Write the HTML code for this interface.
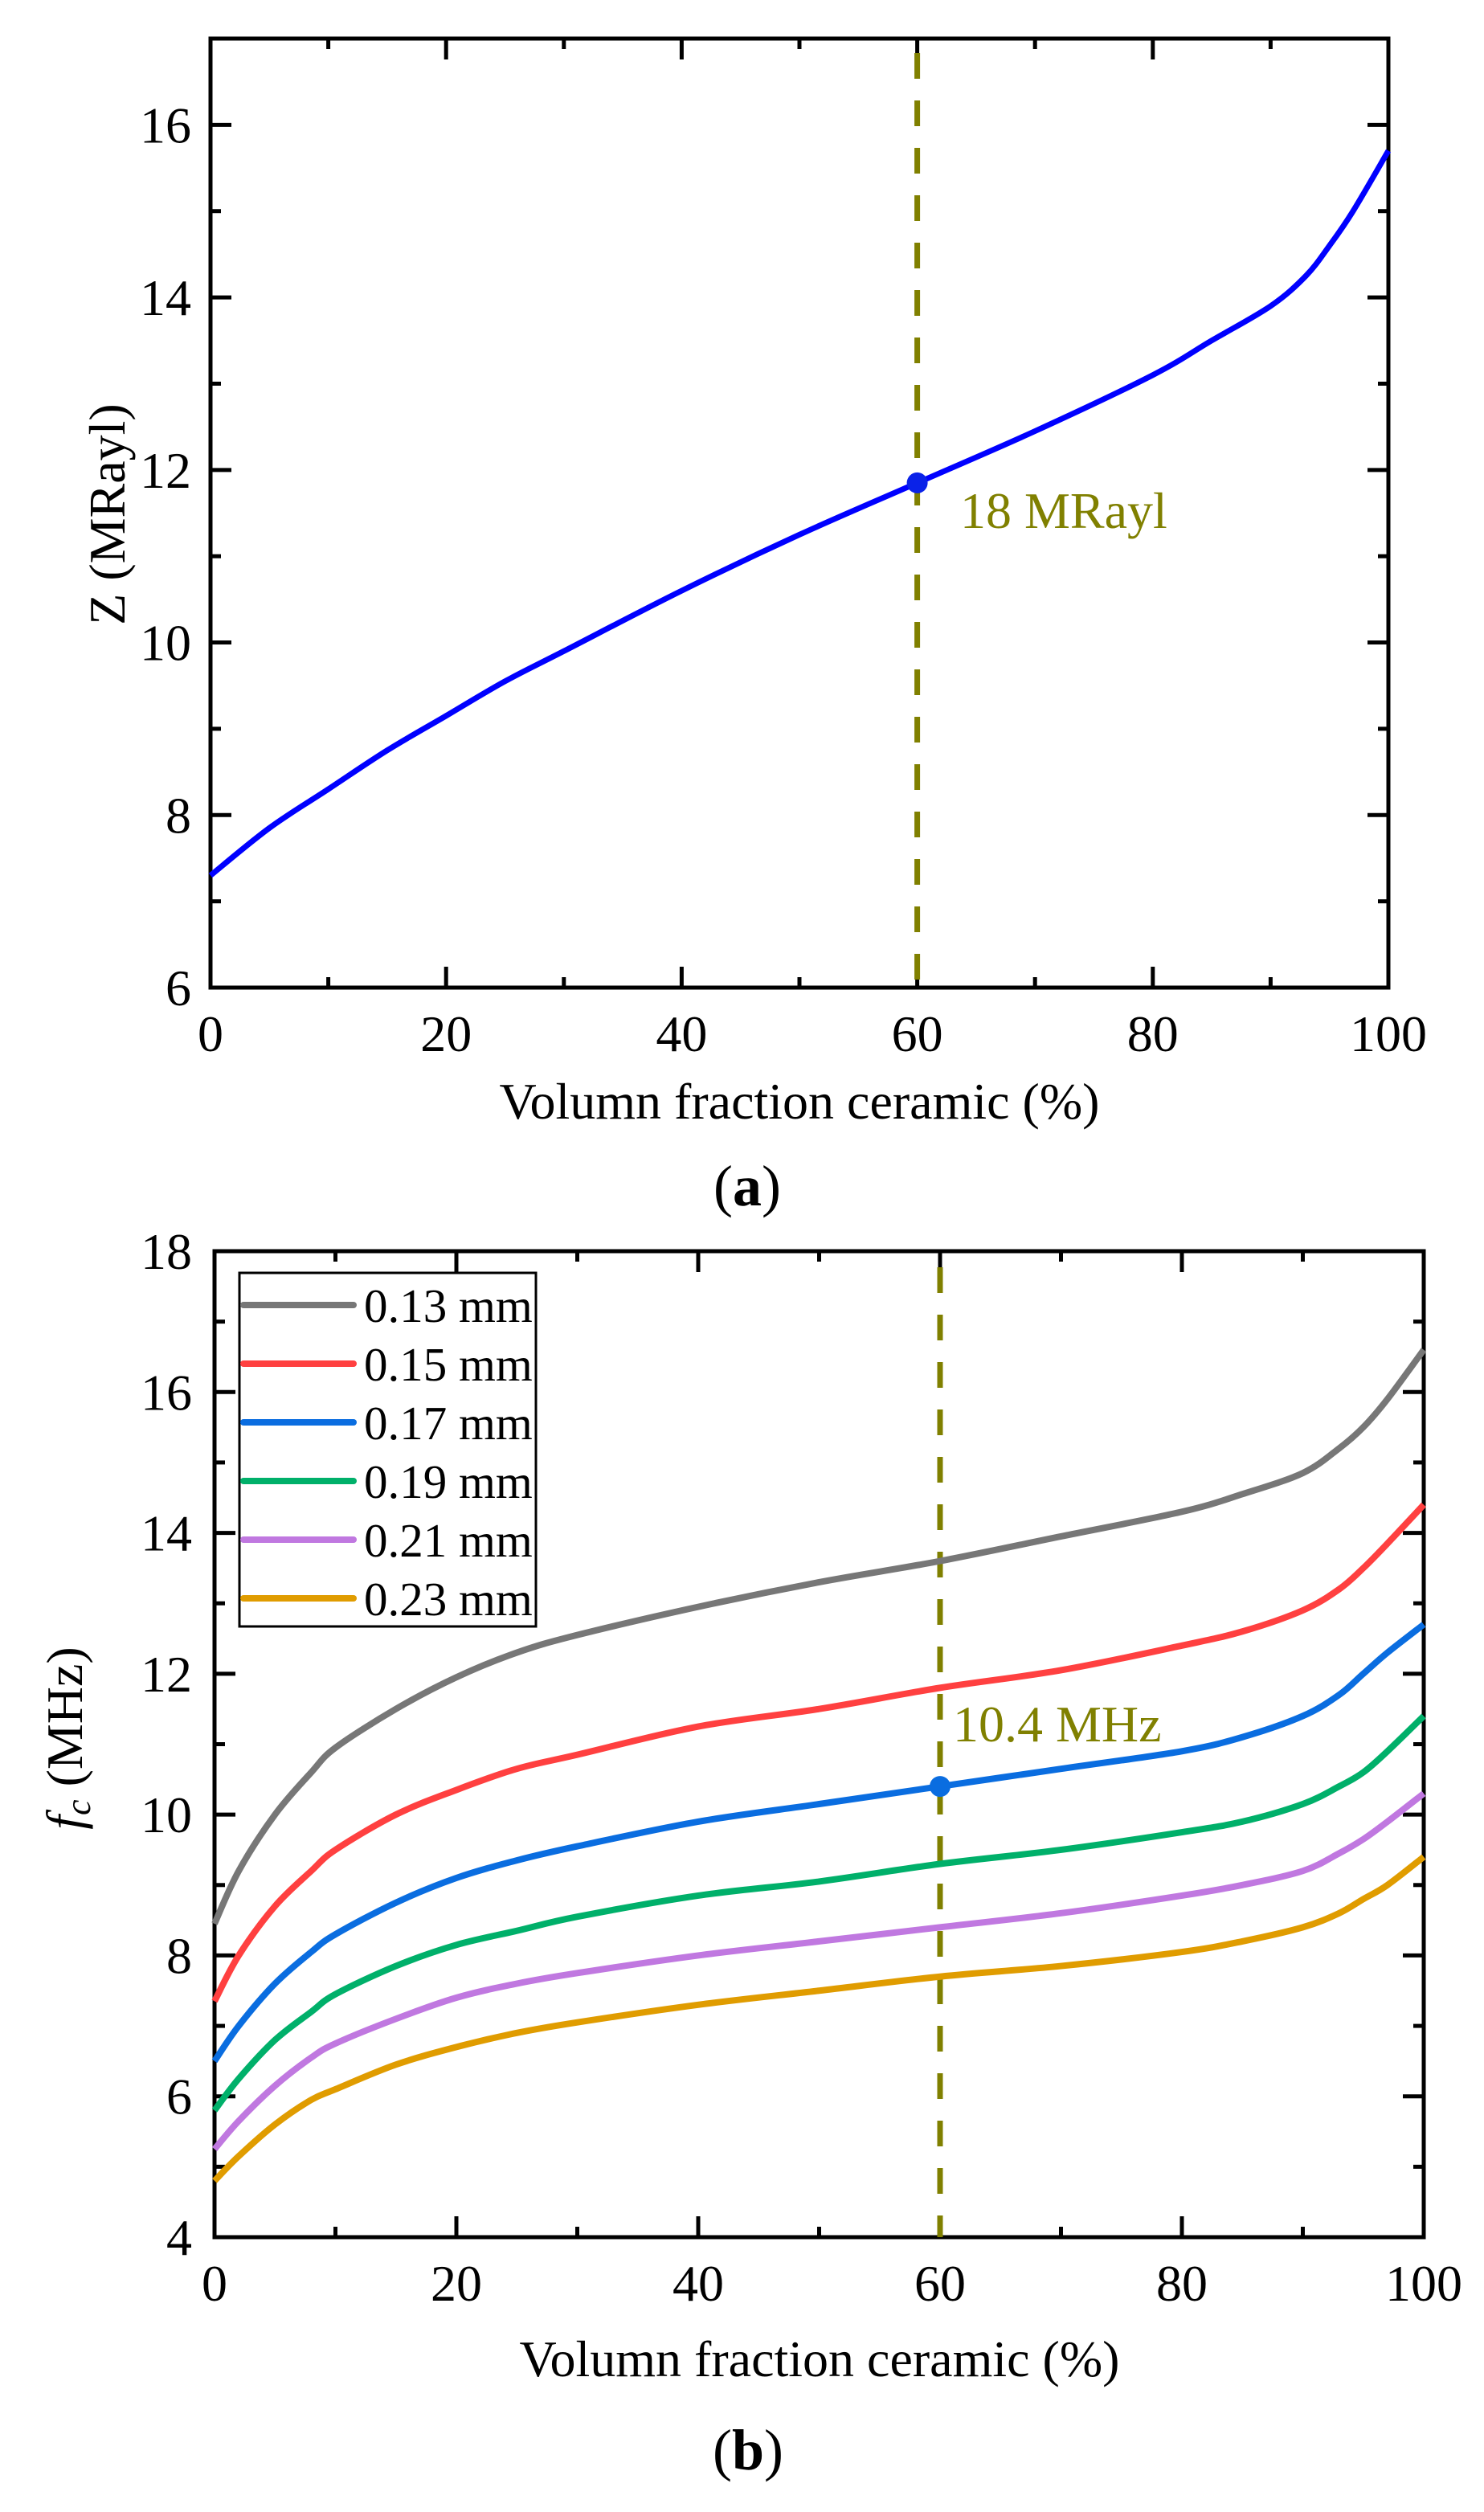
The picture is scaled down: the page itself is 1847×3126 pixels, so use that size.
<!DOCTYPE html>
<html><head><meta charset="utf-8"><style>
html,body{margin:0;padding:0;background:#fff;}
svg{display:block;font-family:"Liberation Serif",serif;}
</style></head><body>
<svg id="fig" width="1847" height="3126" viewBox="0 0 1847 3126" xmlns="http://www.w3.org/2000/svg">
<g id="ga"></g>
<g id="gb"></g>
</svg>
<script>
// ---- Chart (a) data ----
const xsA = [0,5,10,15,20,25,30,40,50,60,70,80,85,90,93,95,97,100];
const zA  = [7.3,7.85,8.3,8.75,9.15,9.55,9.9,10.6,11.25,11.85,12.45,13.1,13.5,13.9,14.25,14.6,15.0,15.7];
const xTicksA = [0,20,40,60,80,100];
const yTicksA = [6,8,10,12,14,16];
const markA = [60,11.85];
const labelA = "18 MRayl";

// ---- Chart (b) data ----
const xsB = [0,2,5,8,10,15,20,25,30,40,50,60,70,80,85,90,93,95,97,100];
const s013 = [8.45,9.2,10.0,10.6,10.95,11.5,11.95,12.3,12.55,12.95,13.3,13.6,13.95,14.3,14.55,14.85,15.2,15.5,15.9,16.6];
const s015 = [7.35,8.0,8.7,9.2,9.5,10.0,10.35,10.65,10.85,11.25,11.5,11.8,12.05,12.4,12.6,12.9,13.2,13.5,13.85,14.4];
const s017 = [6.5,7.0,7.6,8.05,8.3,8.75,9.1,9.35,9.55,9.9,10.15,10.4,10.65,10.9,11.1,11.4,11.7,12.0,12.3,12.7];
const s019 = [5.8,6.25,6.8,7.2,7.45,7.85,8.15,8.35,8.55,8.85,9.05,9.3,9.5,9.75,9.9,10.15,10.4,10.6,10.9,11.4];
const s021 = [5.25,5.65,6.15,6.55,6.75,7.1,7.4,7.6,7.75,8.0,8.2,8.4,8.6,8.85,9.0,9.2,9.45,9.65,9.9,10.3];
const s023 = [4.8,5.15,5.6,5.95,6.1,6.45,6.7,6.9,7.05,7.3,7.5,7.7,7.85,8.05,8.2,8.4,8.6,8.8,9.0,9.4];
const seriesNames = ["0.13 mm","0.15 mm","0.17 mm","0.19 mm","0.21 mm","0.23 mm"];
const xTicksB = [0,20,40,60,80,100];
const yTicksB = [4,6,8,10,12,14,16,18];
const markB = [60,10.4];
const labelB = "10.4 MHz";

const NS="http://www.w3.org/2000/svg";
function mk(parent,tag,attrs,text){const e=document.createElementNS(NS,tag);for(const k in attrs)e.setAttribute(k,attrs[k]);if(text!==undefined)e.textContent=text;parent.appendChild(e);return e;}
function smooth(pts){let d="M"+pts[0][0]+","+pts[0][1];for(let i=0;i<pts.length-1;i++){const p0=pts[i-1]||pts[i],p1=pts[i],p2=pts[i+1],p3=pts[i+2]||p2;const c1=[p1[0]+(p2[0]-p0[0])/6,p1[1]+(p2[1]-p0[1])/6],c2=[p2[0]-(p3[0]-p1[0])/6,p2[1]-(p3[1]-p1[1])/6];d+=" C"+c1[0]+","+c1[1]+" "+c2[0]+","+c2[1]+" "+p2[0]+","+p2[1];}return d;}

function frame(g,L,R,T,B,xmin,xmax,ymin,ymax,xt,yt,xminor,yminor,labelY,labelRight){
  const sx=v=>L+(v-xmin)/(xmax-xmin)*(R-L), sy=v=>B-(v-ymin)/(ymax-ymin)*(B-T);
  for(const v of xminor){const x=sx(v);
    const t=mk(g,"line",{x1:x,x2:x,y1:B,y2:B-13,stroke:"#000","stroke-width":5});
    
    
    mk(g,"line",{x1:x,x2:x,y1:T,y2:T+13,stroke:"#000","stroke-width":5});}
  for(const v of yminor){const y=sy(v);
    const t=mk(g,"line",{x1:L,x2:L+13,y1:y,y2:y,stroke:"#000","stroke-width":5});
    
    
    mk(g,"line",{x1:R,x2:R-13,y1:y,y2:y,stroke:"#000","stroke-width":5});}
  for(const v of xt){const x=sx(v);
    const t=mk(g,"line",{x1:x,x2:x,y1:B,y2:B-26,stroke:"#000","stroke-width":5});
    
    
    mk(g,"line",{x1:x,x2:x,y1:T,y2:T+26,stroke:"#000","stroke-width":5});
    const tl=mk(g,"text",{x:x,y:labelY,"text-anchor":"middle","font-size":64},String(v));
    
    }
  for(const v of yt){const y=sy(v);
    const t=mk(g,"line",{x1:L,x2:L+26,y1:y,y2:y,stroke:"#000","stroke-width":5});
    
    
    mk(g,"line",{x1:R,x2:R-26,y1:y,y2:y,stroke:"#000","stroke-width":5});
    const tl=mk(g,"text",{x:labelRight,y:y+22,"text-anchor":"end","font-size":64},String(v));
    
    }
  const fr=mk(g,"rect",{x:L,y:T,width:R-L,height:B-T,fill:"none",stroke:"#000","stroke-width":5});
  
  
  return [sx,sy];
}

// ---- Chart a ----
(function(){
  const g=document.getElementById("ga");
  const [sx,sy]=frame(g,262,1728,48,1229,0,100,6,17,xTicksA,yTicksA,[10,30,50,70,90],[7,9,11,13,15],1308,238);
  const dl=mk(g,"line",{x1:sx(markA[0]),x2:sx(markA[0]),y1:66,y2:1229,stroke:"#808000","stroke-width":7,"stroke-dasharray":"32 27"});
  
  
  const p=mk(g,"path",{d:smooth(xsA.map((x,i)=>[sx(x),sy(zA[i])])),fill:"none",stroke:"#0000ff","stroke-width":7});
  
  
  const c=mk(g,"circle",{cx:sx(markA[0]),cy:sy(markA[1]),r:13,fill:"#0a22e8"});
  
  
  const t=mk(g,"text",{x:1195,y:657,"font-size":64,fill:"#808000"},labelA);
  
  
  const xt=mk(g,"text",{x:995,y:1392,"text-anchor":"middle","font-size":64},"Volumn fraction ceramic (%)");
  
  
  const yt=mk(g,"text",{x:0,y:0,"text-anchor":"middle","font-size":64,transform:"translate(155,640) rotate(-90)"},"Z (MRayl)");
  
  
  const cap=mk(g,"text",{x:930,y:1500,"text-anchor":"middle","font-size":72},"");
  
  
  mk(cap,"tspan",{},"(");mk(cap,"tspan",{"font-weight":"bold"},"a");mk(cap,"tspan",{},")");
})();

// ---- Chart b ----
(function(){
  const g=document.getElementById("gb");
  const [sx,sy]=frame(g,267,1772,1557,2784,0,100,4,18,xTicksB,yTicksB,[10,30,50,70,90],[5,7,9,11,13,15,17],2863,239);
  const dl=mk(g,"line",{x1:sx(markB[0]),x2:sx(markB[0]),y1:1577,y2:2784,stroke:"#808000","stroke-width":7,"stroke-dasharray":"32 27"});
  
  
  const all=[s013,s015,s017,s019,s021,s023];
  const cols=["#777777","#ff4040","#0a6de0","#00b06a","#c078e0","#e09c00"];
  all.forEach((s,k)=>{
    const p=mk(g,"path",{d:smooth(xsB.map((x,i)=>[sx(x),sy(s[i])])),fill:"none",stroke:cols[k],"stroke-width":8});
    
    
  });
  const c=mk(g,"circle",{cx:sx(markB[0]),cy:sy(markB[1]),r:13,fill:"#0a6de0"});
  
  
  const t=mk(g,"text",{x:1186,y:2167,"font-size":64,fill:"#808000"},labelB);
  
  
  // legend
  const lg=mk(g,"g",{});
  
  
  mk(lg,"rect",{x:298,y:1584,width:369,height:440,fill:"#fff",stroke:"#000","stroke-width":3});
  seriesNames.forEach((n,k)=>{
    const y=1624+k*73;
    const e=mk(lg,"g",{});
    
    
    mk(e,"line",{x1:303,x2:440,y1:y,y2:y,stroke:cols[k],"stroke-width":8,"stroke-linecap":"round"});
    mk(e,"text",{x:453,y:y+21,"font-size":59},n);
  });
  const xt=mk(g,"text",{x:1020,y:2957,"text-anchor":"middle","font-size":64},"Volumn fraction ceramic (%)");
  
  
  const yt=mk(g,"text",{x:0,y:0,"text-anchor":"middle","font-size":64,transform:"translate(102,2163) rotate(-90)"},"");
  
  
  mk(yt,"tspan",{"font-style":"italic"},"f");
  mk(yt,"tspan",{"font-style":"italic","font-size":44,dy:10},"c");
  mk(yt,"tspan",{dy:-10}," (MHz)");
  const cap=mk(g,"text",{x:931,y:3073,"text-anchor":"middle","font-size":72},"");
  
  
  mk(cap,"tspan",{},"(");mk(cap,"tspan",{"font-weight":"bold"},"b");mk(cap,"tspan",{},")");
})();
</script>
</body></html>
